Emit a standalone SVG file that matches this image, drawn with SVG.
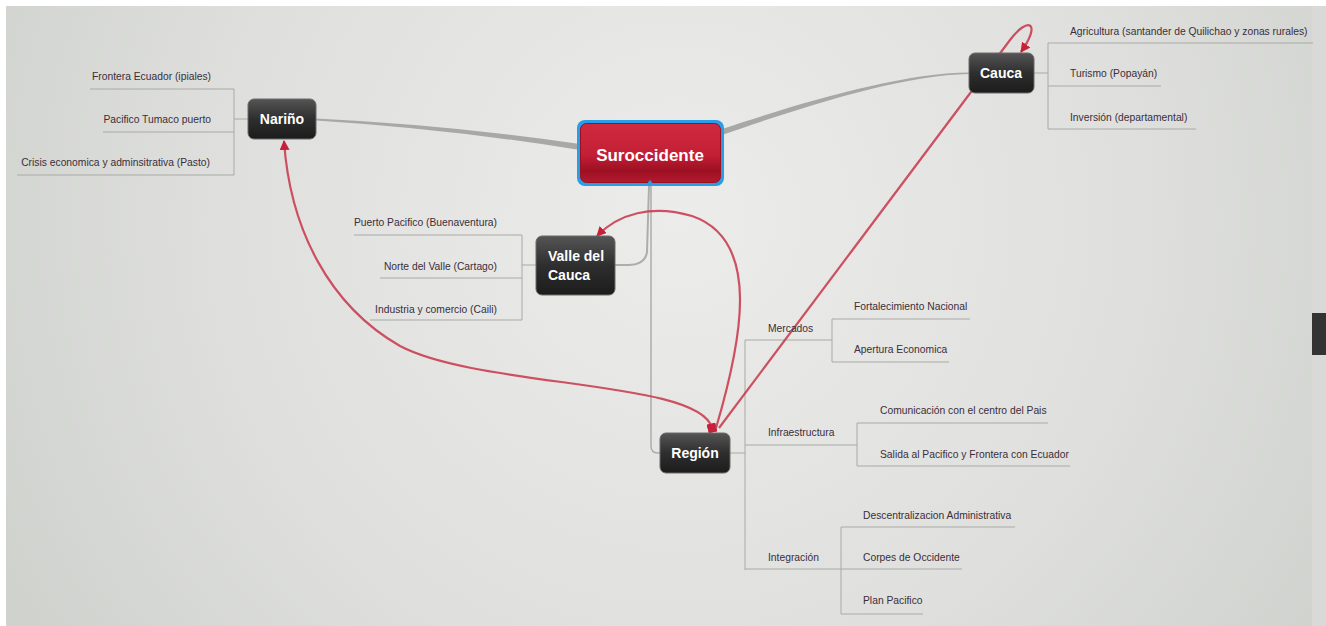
<svg xmlns="http://www.w3.org/2000/svg" width="1326" height="626" viewBox="0 0 1326 626">
<defs>
<radialGradient id="bg" cx="680" cy="220" r="760" gradientUnits="userSpaceOnUse">
<stop offset="0" stop-color="#ececea"/>
<stop offset="0.6" stop-color="#dfe0dd"/>
<stop offset="1" stop-color="#d0d2ce"/>
</radialGradient>
<linearGradient id="dark" x1="0" y1="0" x2="0" y2="1">
<stop offset="0" stop-color="#555"/>
<stop offset="0.5" stop-color="#2e2e2e"/>
<stop offset="1" stop-color="#1c1c1c"/>
</linearGradient>
<linearGradient id="red" x1="0" y1="0" x2="0" y2="1">
<stop offset="0" stop-color="#cf2a40"/>
<stop offset="0.55" stop-color="#c21e34"/>
<stop offset="0.8" stop-color="#9c1022"/>
<stop offset="1" stop-color="#b41a2e"/>
</linearGradient>
<marker id="ah" viewBox="0 0 10 10" refX="9" refY="5" markerWidth="10" markerHeight="10" markerUnits="userSpaceOnUse" orient="auto">
<path d="M0,0 L10,5 L0,10 Z" fill="#c8203a"/>
</marker>
<marker id="sq" viewBox="0 0 10 10" refX="5" refY="5" markerWidth="9" markerHeight="9" markerUnits="userSpaceOnUse" orient="auto">
<rect x="0" y="0" width="10" height="10" fill="#c8203a"/>
</marker>
</defs>
<style>
.lbl{font-family:"Liberation Sans",Arial,sans-serif;font-size:10.3px;fill:#3a2e3a}
.nt{font-family:"Liberation Sans",Arial,sans-serif;font-size:14px;font-weight:bold;fill:#fff}
.dk{fill:url(#dark);stroke:#6a6a6a;stroke-width:1}
.br{fill:none;stroke:#a9aaa6;stroke-width:1}
.rel{fill:none;stroke:#c8354a;stroke-width:2.2;stroke-opacity:0.85}
.gc{fill:#a8a9a5}
</style>
<rect x="0" y="0" width="1326" height="626" fill="#ffffff"/>
<rect x="6" y="6" width="1320" height="620" fill="url(#bg)"/>
<rect x="1312" y="6" width="14" height="620" fill="#d9d9d7"/>
<rect x="1312" y="313" width="14" height="42" fill="#333"/>

<g id="connectors">
<path class="gc" d="M316,118.5 Q450,125 580,144 L580,150 Q450,129 316,120.5 Z"/>
<path class="gc" d="M722,129 C800,103 900,73 969,72.5 L969,74 C900,75 800,108 722,135 Z"/>
<path d="M649,186 L647,252 Q645,265 628,265 L615,265" fill="none" stroke="#adaeaa" stroke-width="2"/>
<path d="M651,186 L651,446 Q651,453 658,453 L660,453" fill="none" stroke="#adaeaa" stroke-width="1.5"/>
<!-- Nariño branches -->
<path class="br" d="M248,119 H234 M234,89 V175 M90,89 H234 M103,132 H234 M17,175 H234"/>
<!-- Cauca branches -->
<path class="br" d="M1034,73 H1048 M1048,43 V129 M1048,43 H1313 M1048,86 H1161 M1048,129 H1196"/>
<!-- Valle branches -->
<path class="br" d="M536,265 H522 M522,235 V320 M354,235 H522 M380,278 H522 M370,320 H522"/>
<!-- Región branches -->
<path class="br" d="M730,453 H745 M745,340 V570 M745,340 H832 M832,319 V362 M832,319 H970 M832,362 H949 M745,445 H857 M857,423 V466 M857,423 H1048 M857,466 H1070 M745,569 H962 M841,527 V614 M841,527 H1015 M841,614 H923"/>
<!-- relationship curves -->
<path class="rel" marker-start="url(#sq)" marker-end="url(#ah)" d="M712,428 C700,380 480,388 400,346 C330,306 290,230 284,141"/>
<path class="rel" d="M716,428 C742,340 762,240 692,216 C652,204 618,214 597,236" marker-end="url(#ah)"/>
<path class="rel" d="M719,428 C800,320 950,120 1010,40 C1028,16 1042,22 1021,52" marker-end="url(#ah)"/>
</g>

<g id="suroccidente">
<rect x="577" y="120" width="147" height="66" rx="8" fill="#2a9de8"/>
<rect x="580.5" y="123.5" width="140" height="59" rx="6" fill="url(#red)" stroke="#9a1020" stroke-width="1"/>
<path d="M645,186 L650,180 L655,186 Z" fill="#2a9de8"/>
<text x="650" y="161" text-anchor="middle" font-family="Liberation Sans, Arial, sans-serif" font-size="17" font-weight="bold" fill="#fff">Suroccidente</text>
</g>

<g id="narino">
<rect class="dk" x="248" y="99" width="68" height="40" rx="6"/>
<text class="nt" x="282" y="124" text-anchor="middle">Nariño</text>
<text class="lbl" x="211" y="80" text-anchor="end">Frontera Ecuador (ipiales)</text>
<text class="lbl" x="211" y="123" text-anchor="end">Pacifico Tumaco puerto</text>
<text class="lbl" x="210" y="166" text-anchor="end">Crisis economica y adminsitrativa (Pasto)</text>
</g>

<g id="cauca">
<rect class="dk" x="969" y="53" width="65" height="40" rx="6"/>
<text class="nt" x="1001" y="78" text-anchor="middle">Cauca</text>
<text class="lbl" x="1070" y="35">Agricultura (santander de Quilichao y zonas rurales)</text>
<text class="lbl" x="1070" y="77">Turismo (Popayán)</text>
<text class="lbl" x="1070" y="121">Inversión (departamental)</text>
</g>

<g id="valle">
<rect class="dk" x="536" y="236" width="79" height="59" rx="6"/>
<text class="nt" x="548" y="261">Valle del</text>
<text class="nt" x="548" y="280">Cauca</text>
<text class="lbl" x="497" y="226" text-anchor="end">Puerto Pacifico (Buenaventura)</text>
<text class="lbl" x="497" y="270" text-anchor="end">Norte del Valle (Cartago)</text>
<text class="lbl" x="497" y="313" text-anchor="end">Industria y comercio (Caili)</text>
</g>

<g id="region">
<rect class="dk" x="660" y="433" width="70" height="40" rx="6"/>
<text class="nt" x="695" y="458" text-anchor="middle">Región</text>
<text class="lbl" x="768" y="332">Mercados</text>
<text class="lbl" x="854" y="310">Fortalecimiento Nacional</text>
<text class="lbl" x="854" y="353">Apertura Economica</text>
<text class="lbl" x="768" y="436">Infraestructura</text>
<text class="lbl" x="880" y="414">Comunicación con el centro del Pais</text>
<text class="lbl" x="880" y="458">Salida al Pacifico y Frontera con Ecuador</text>
<text class="lbl" x="768" y="561">Integración</text>
<text class="lbl" x="863" y="519">Descentralizacion Administrativa</text>
<text class="lbl" x="863" y="561">Corpes de Occidente</text>
<text class="lbl" x="863" y="604">Plan Pacifico</text>
</g>
</svg>
